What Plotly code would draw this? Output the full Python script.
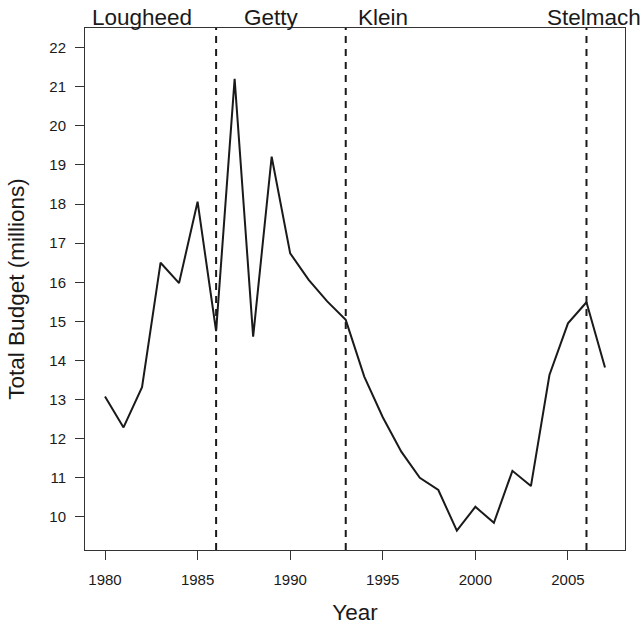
import plotly.graph_objects as go

years = list(range(1980, 2008))
budget = [13.08, 12.29, 13.32, 16.50, 15.98, 18.06, 14.75, 21.20, 14.61, 19.21,
          16.74, 16.06, 15.51, 15.04, 13.59, 12.55, 11.67, 11.00, 10.69, 9.65,
          10.26, 9.85, 11.18, 10.79, 13.63, 14.95, 15.49, 13.82]
premier_change_years = [1986, 1993, 2006]
premier_names = ["Lougheed", "Getty", "Klein", "Stelmach"]
premier_label_x = [1982.0, 1989.0, 1995.0, 2006.4]

FONT = "Liberation Sans, Arial, Helvetica, sans-serif"
TXT = "#1a1a1a"

fig = go.Figure()
fig.add_trace(go.Scatter(x=years, y=budget, mode="lines",
                         line=dict(color=TXT, width=2), showlegend=False))

shapes = []
for yr in premier_change_years:
    shapes.append(dict(type="line", xref="x", yref="paper", x0=yr, x1=yr, y0=0, y1=1,
                       line=dict(color=TXT, width=2, dash="7px,6px")))

annotations = []
for name, xp in zip(premier_names, premier_label_x):
    annotations.append(dict(text=name, x=xp, xref="x", y=1.0, yref="paper",
                            yanchor="bottom", yshift=-4, showarrow=False,
                            font=dict(family=FONT, size=22.5, color=TXT)))

fig.update_layout(
    width=644, height=625,
    margin=dict(l=85, r=19, t=28, b=75),
    paper_bgcolor="white", plot_bgcolor="white",
    font=dict(family=FONT, color=TXT),
    shapes=shapes, annotations=annotations,
    xaxis=dict(range=[1978.92, 2008.08], tickmode="array",
               tickvals=[1980, 1985, 1990, 1995, 2000, 2005],
               ticks="outside", ticklen=9, tickwidth=1, tickcolor="#333",
               showline=True, linecolor="#333", linewidth=1, mirror=True,
               showgrid=False, zeroline=False, automargin=False,
               ticklabelstandoff=7,
               tickfont=dict(size=15, family=FONT, color=TXT),
               title=dict(text="Year", font=dict(size=22.5, family=FONT, color=TXT),
                          standoff=20)),
    yaxis=dict(range=[9.156, 22.5], tickmode="array",
               tickvals=list(range(10, 23)),
               ticks="outside", ticklen=9, tickwidth=1, tickcolor="#333",
               showline=True, linecolor="#333", linewidth=1, mirror=True,
               showgrid=False, zeroline=False, automargin=False,
               ticklabelstandoff=6,
               tickfont=dict(size=15, family=FONT, color=TXT),
               title=dict(text="Total Budget (millions)",
                          font=dict(size=22.5, family=FONT, color=TXT),
                          standoff=18)),
)

fig.write_html("out.html", config={"displayModeBar": False},
               post_script="document.body.style.margin='0';")
